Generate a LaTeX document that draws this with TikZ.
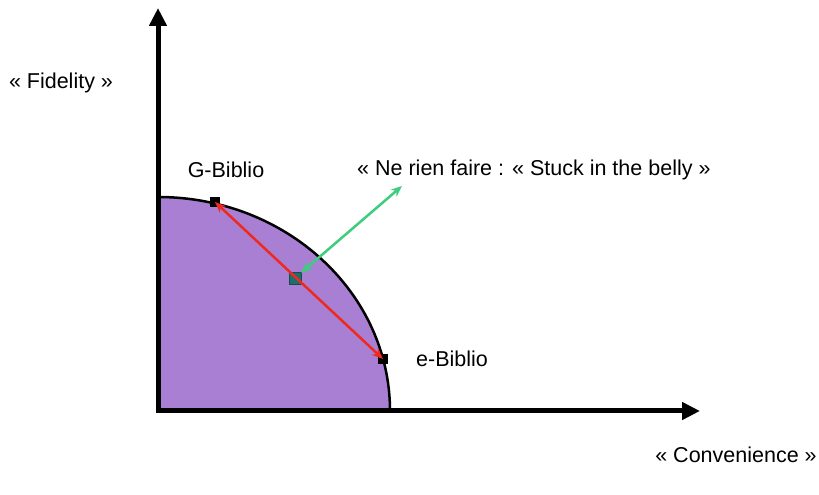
\documentclass[tikz,border=0pt]{standalone}
\usepackage{fontspec}
\setmainfont{Liberation Sans}
\usepackage{tikz}
\usetikzlibrary{arrows.meta, positioning, calc}
\definecolor{frontier}{RGB}{168, 127, 211}
\definecolor{midbox}{RGB}{30, 110, 110}
\definecolor{pushc}{RGB}{60, 205, 125}
\definecolor{shiftc}{RGB}{240, 40, 30}

\begin{document}
\begin{tikzpicture}[x=1pt, y=1pt,
  lbl/.style={font=\fontsize{21.5}{24}\selectfont, inner sep=0pt},
  pt/.style={draw=black, fill=black, minimum size=9pt, inner sep=0pt},
  axis/.style={line width=5pt, -{Triangle[length=18pt, width=17pt]}},
  arr/.style={{Stealth[length=11pt, width=9pt]}-{Stealth[length=11pt, width=9pt]}, line width=2.5pt}
]
\useasboundingbox (0,0) rectangle (819,495);
\coordinate (o) at (158,84);
% frontier
\filldraw[fill=frontier, draw=black, line width=2.5pt] (o) -- (158,298)
  arc[start angle=90, end angle=0, x radius=232pt, y radius=214pt] -- cycle;
% axes
\draw[axis] ($(o)+(0,-2)$) -- (158,487) coordinate (ytop);
\draw[axis] ($(o)+(-2,0)$) -- (700,84) coordinate (xend);
% points
\node[pt] (gbib) at (215,293) {};
\node[pt] (ebib) at (383,136) {};
\node[pt, draw=midbox!70!black, fill=midbox, minimum size=12pt] (mid) at (295,217) {};
\coordinate (push) at (402,309);
\draw[arr, shiftc] (gbib.center) -- (ebib.center);
\draw[arr, pushc] (mid) -- (push);
% labels
\node[lbl] (fid) at (61,412) {« Fidelity »};
\node[lbl] (gbl) at (226,325) {G-Biblio};
\node[lbl, anchor=west] (nrf) at (357,325) {« Ne rien faire : « Stuck in the belly »};
\node[lbl] (ebl) at (452,136) {e-Biblio};
\node[lbl] (conv) at (736,40) {« Convenience »};
\end{tikzpicture}
\end{document}
